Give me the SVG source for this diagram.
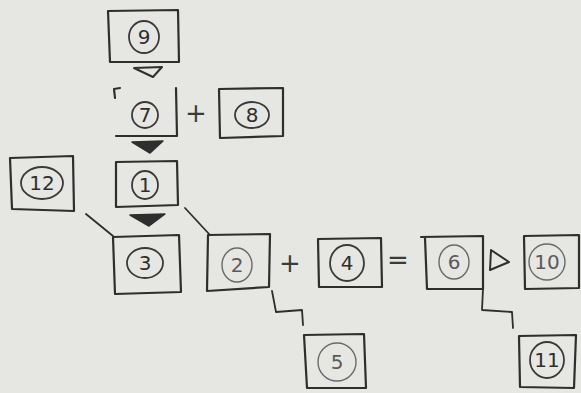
<svg xmlns="http://www.w3.org/2000/svg" width="581" height="393" viewBox="0 0 581 393">
<style>
.bx{fill:none;stroke:#2e2e2e;stroke-width:2.2;stroke-linejoin:round;stroke-linecap:round}
.c{fill:none;stroke:#3a3a3a;stroke-width:1.8}
.cl{fill:none;stroke:#6a6a6a;stroke-width:1.4}
.t{font-family:"DejaVu Sans","Liberation Sans",sans-serif;font-size:20px;fill:#2e2e2e;text-anchor:middle;dominant-baseline:central}
.tl{font-family:"DejaVu Sans","Liberation Sans",sans-serif;font-size:20px;fill:#5a5a5a;text-anchor:middle;dominant-baseline:central}
.ln{fill:none;stroke:#2e2e2e;stroke-width:1.8;stroke-linecap:round;stroke-linejoin:round}
.op{font-family:"DejaVu Sans","Liberation Sans",sans-serif;font-size:26px;fill:#3a3a3a;text-anchor:middle;dominant-baseline:central}
</style>
<rect width="581" height="393" fill="#e6e6e3"/>

<g id="n9"><path class="bx" d="M108,11 L178,10 L179,62 L110,62 Z"/><ellipse class="c" cx="144" cy="37" rx="15" ry="16"/><text class="t" x="144" y="37">9</text></g>
<g id="n7"><path class="bx" d="M114,89 L120,88 M114,89 L115,98 M176,88 L177,136 L116,136"/><ellipse class="c" cx="145" cy="115" rx="13" ry="13"/><text class="t" x="145" y="115">7</text></g>
<g id="n8"><path class="bx" d="M219,89 L283,88 L283,136 L220,138 Z"/><ellipse class="c" cx="252" cy="115" rx="17" ry="13"/><text class="t" x="252" y="115">8</text></g>
<g id="n1"><path class="bx" d="M116,162 L177,161 L178,205 L116,207 Z"/><ellipse class="c" cx="145" cy="185" rx="13" ry="14"/><text class="t" x="145" y="185">1</text></g>
<g id="n12"><path class="bx" d="M10,158 L73,156 L74,211 L12,209 Z"/><ellipse class="c" cx="42" cy="183" rx="21" ry="16"/><text class="t" x="42" y="183">12</text></g>
<g id="n3"><path class="bx" d="M113,237 L179,235 L181,292 L115,294 Z"/><ellipse class="c" cx="145" cy="263" rx="18" ry="15"/><text class="t" x="145" y="263">3</text></g>
<g id="n2"><path class="bx" d="M208,235 L270,234 L269,287 L207,291 Z"/><ellipse class="cl" cx="237" cy="265" rx="15" ry="17"/><text class="tl" x="237" y="265">2</text></g>
<g id="n4"><path class="bx" d="M318,239 L381,238 L382,287 L319,287 Z"/><ellipse class="c" cx="347" cy="263" rx="17" ry="18"/><text class="t" x="347" y="263">4</text></g>
<g id="n6"><path class="bx" d="M421,237 L483,236 L483,289 L427,289 L425,238"/><ellipse class="cl" cx="454" cy="262" rx="15" ry="17"/><text class="tl" x="454" y="262">6</text></g>
<g id="n10"><path class="bx" d="M524,236 L579,235 L579,288 L525,289 Z"/><ellipse class="cl" cx="547" cy="262" rx="18" ry="18"/><text class="tl" x="547" y="262">10</text></g>
<g id="n5"><path class="bx" d="M304,335 L364,334 L366,388 L307,388 Z"/><ellipse class="cl" cx="337" cy="362" rx="19" ry="19"/><text class="tl" x="337" y="362">5</text></g>
<g id="n11"><path class="bx" d="M519,336 L576,335 L574,388 L520,387 Z"/><ellipse class="c" cx="547" cy="360" rx="17" ry="18"/><text class="t" x="547" y="360">11</text></g>

<g id="connectors">
<path d="M134,68 L162,67 L153,77 Z" fill="none" stroke="#2e2e2e" stroke-width="2" stroke-linejoin="round"/>
<path d="M132,142 L163,141 L150,153 Z" fill="#2e2e2e" stroke="#2e2e2e" stroke-width="1.5" stroke-linejoin="round"/>
<path d="M130,215 L165,214 L149,226 Z" fill="#2e2e2e" stroke="#2e2e2e" stroke-width="1.5" stroke-linejoin="round"/>
<path d="M491,250 L509,262 L490,270 Z" fill="none" stroke="#2e2e2e" stroke-width="2" stroke-linejoin="round"/>
<path class="ln" d="M86,214 L113,236"/>
<path class="ln" d="M185,208 L210,235"/>
<path class="ln" d="M272,291 L276,312 L302,310 L303,325"/>
<path class="ln" d="M483,289 L482,310 L512,312 L513,328"/>
<text class="op" x="196" y="113">+</text>
<text class="op" x="290" y="263">+</text>
<text class="op" x="398" y="260">=</text>
</g>
</svg>
